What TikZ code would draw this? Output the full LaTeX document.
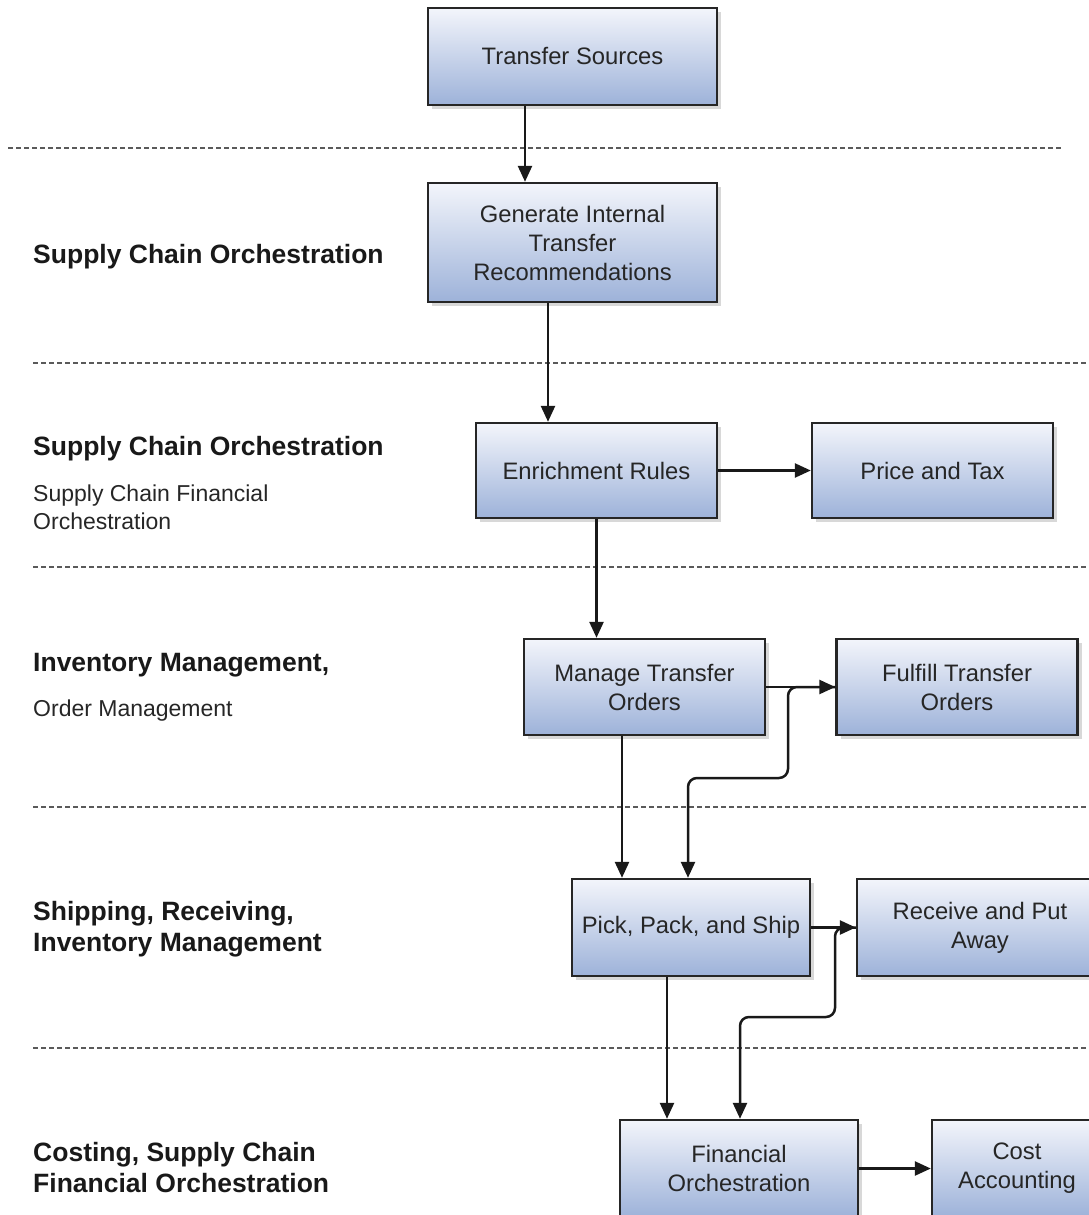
\documentclass[tikz,border=0pt]{standalone}
\usepackage{fontspec}
\setmainfont{Liberation Sans}
\usetikzlibrary{arrows.meta, shadows}
\definecolor{boxtop}{RGB}{243,245,251}
\definecolor{boxbottom}{RGB}{157,178,217}
\definecolor{rulegray}{RGB}{90,90,90}
\tikzstyle{block} = [rectangle, minimum height=97pt, text centered, align=center, draw=black!85, text=black!85, line width=2.4pt, top color=boxtop, bottom color=boxbottom, drop shadow={shadow xshift=4pt, shadow yshift=-4pt, fill=black!30}, font=\fontsize{23.8}{29}\selectfont]
\tikzstyle{arrow} = [line width=2.5pt, -{Triangle[length=16pt, width=14pt]}, draw=black!90]
\tikzstyle{lane} = [draw=rulegray, line width=2pt, dash pattern=on 5pt off 3pt]
\tikzstyle{lanehead} = [anchor=west, inner sep=0pt, align=left, text=black!90, font=\bfseries\fontsize{26.5}{31}\selectfont]
\tikzstyle{lanesub} = [anchor=west, inner sep=0pt, align=left, text=black!85, font=\fontsize{23}{28}\selectfont]

\begin{document}
\begin{tikzpicture}[x=1pt, y=-1pt]
\useasboundingbox (0,0) rectangle (1089,1215);

% swim lane rules
\draw [lane] (8,148) -- (1062,148);
\foreach \y in {363, 567, 807, 1048}
  \draw [lane] (33,\y) -- (1089,\y);

% lane labels
\node (lanea) [lanehead] at (33,257) {Supply Chain Orchestration};
\node (laneb) [lanehead] at (33,449) {Supply Chain Orchestration};
\node (lanebsub) [lanesub] at (33,507) {Supply Chain Financial\\Orchestration};
\node (lanec) [lanehead] at (33,665) {Inventory Management,};
\node (lanecsub) [lanesub] at (33,711) {Order Management};
\node (laned) [lanehead] at (33,929) {Shipping, Receiving,\\Inventory Management};
\node (lanee) [lanehead] at (33,1167.5) {Costing, Supply Chain\\Financial Orchestration};

% process boxes
\node (transfersources) [block, minimum width=289pt] at (572.5,56.5) {Transfer Sources};
\node (generate) [block, minimum width=289pt, minimum height=119pt] at (572.5,242.5) {Generate Internal\\Transfer\\Recommendations};
\node (enrichment) [block, minimum width=241pt, minimum height=95pt] at (596.5,470.5) {Enrichment Rules};
\node (pricetax) [block, minimum width=241pt, minimum height=95pt] at (932.5,470.5) {Price and Tax};
\node (manage) [block, minimum width=241pt, minimum height=96pt] at (644.5,687) {Manage Transfer\\Orders};
\node (fulfill) [block, minimum width=241pt, minimum height=96pt] at (957,687) {Fulfill Transfer\\Orders};
\node (pickship) [block, minimum width=238pt] at (691,927.5) {Pick, Pack, and Ship};
\node (receive) [block, minimum width=246pt] at (980,927.5) {Receive and Put\\Away};
\node (financial) [block, minimum width=238pt] at (739,1168.5) {Financial\\Orchestration};
\node (costacct) [block, minimum width=170pt] at (1017,1168.5) {Cost\\Accounting};

\coordinate (fulfillbend) at (788,778);
\coordinate (receivebend) at (835,1017);

% flow
\draw [arrow] ([xshift=-47.5pt]transfersources.south) -- ([xshift=-47.5pt]generate.north);
\draw [arrow] ([xshift=-24.5pt]generate.south) -- ([xshift=-24.5pt]generate.south |- enrichment.north);
\draw [arrow] (enrichment.east) -- (pricetax.west);
\draw [arrow] (enrichment.south) -- (enrichment.south |- manage.north);
\draw [arrow] (manage.east) -- (fulfill.west);
\draw [arrow] ([xshift=-22.5pt]manage.south) -- ([xshift=-22.5pt]manage.south |- pickship.north);
\draw [arrow, rounded corners=9pt] (fulfill.west) -| (fulfillbend) -| ([xshift=-3pt]pickship.north);
\draw [arrow] (pickship.east) -- (receive.west);
\draw [arrow] ([xshift=-24pt]pickship.south) -- ([xshift=-24pt]pickship.south |- financial.north);
\draw [arrow, rounded corners=9pt] (receive.west) -| (receivebend) -| ([xshift=1pt]financial.north);
\draw [arrow] (financial.east) -- (costacct.west);

\end{tikzpicture}
\end{document}
